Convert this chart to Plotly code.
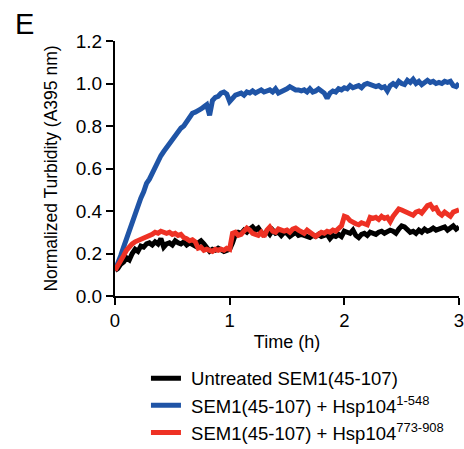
import plotly.graph_objects as go

time_h = [i * 0.025 for i in range(121)]

untreated = [
    0.12, 0.13, 0.15, 0.16, 0.18, 0.17, 0.20, 0.22, 0.21, 0.235,
    0.23, 0.245, 0.25, 0.24, 0.255, 0.245, 0.27, 0.23, 0.245, 0.25,
    0.24, 0.26, 0.25, 0.245, 0.255, 0.24, 0.25, 0.245, 0.235, 0.25,
    0.26, 0.245, 0.23, 0.21, 0.22, 0.215, 0.225, 0.22, 0.21, 0.215,
    0.22, 0.25, 0.29, 0.30, 0.295, 0.31, 0.30, 0.315, 0.325, 0.31,
    0.32, 0.30, 0.29, 0.305, 0.29, 0.31, 0.295, 0.30, 0.285, 0.30,
    0.295, 0.28, 0.29, 0.30, 0.285, 0.29, 0.285, 0.28, 0.275, 0.285,
    0.28, 0.29, 0.28, 0.285, 0.29, 0.27, 0.285, 0.28, 0.29, 0.28,
    0.305, 0.30, 0.295, 0.31, 0.285, 0.275, 0.29, 0.295, 0.285, 0.30,
    0.295, 0.29, 0.30, 0.305, 0.295, 0.30, 0.31, 0.305, 0.295, 0.315,
    0.33, 0.325, 0.31, 0.30, 0.305, 0.295, 0.31, 0.30, 0.315, 0.305,
    0.31, 0.32, 0.31, 0.315, 0.32, 0.325, 0.31, 0.32, 0.33, 0.315,
    0.325,
]

hsp_1_548 = [
    0.12, 0.15, 0.19, 0.23, 0.27, 0.31, 0.35, 0.39, 0.43, 0.46,
    0.49, 0.53, 0.55, 0.58, 0.61, 0.63, 0.66, 0.68, 0.70, 0.72,
    0.74, 0.755, 0.77, 0.79, 0.80, 0.82, 0.835, 0.86, 0.865, 0.87,
    0.88, 0.89, 0.90, 0.85, 0.92, 0.935, 0.94, 0.955, 0.96, 0.95,
    0.915, 0.93, 0.945, 0.95, 0.955, 0.945, 0.96, 0.955, 0.965, 0.955,
    0.96, 0.97, 0.96, 0.965, 0.97, 0.96, 0.975, 0.955, 0.96, 0.965,
    0.975, 0.985, 0.975, 0.97, 0.97, 0.965, 0.97, 0.96, 0.975, 0.96,
    0.965, 0.975, 0.965, 0.955, 0.93, 0.955, 0.965, 0.96, 0.975, 0.97,
    0.98, 0.975, 0.99, 0.98, 0.985, 0.99, 0.98, 0.995, 1.0, 0.995,
    0.99, 0.985, 0.99, 0.98, 0.985, 0.965, 0.99, 1.0, 0.99, 1.01,
    1.0, 0.995, 1.015, 1.005, 1.02, 1.0, 1.01, 0.995, 1.005, 1.015,
    1.005, 1.01, 1.0, 1.005, 1.0, 1.01, 1.005, 1.01, 0.99, 0.985,
    1.0,
]

hsp_773_908 = [
    0.12, 0.14, 0.165, 0.19, 0.215, 0.235, 0.245, 0.255, 0.26, 0.265,
    0.27, 0.275, 0.285, 0.29, 0.30, 0.295, 0.305, 0.30, 0.295, 0.30,
    0.29, 0.295, 0.285, 0.29, 0.275, 0.27, 0.26, 0.265, 0.255, 0.225,
    0.23, 0.215, 0.22, 0.215, 0.21, 0.22, 0.215, 0.22, 0.215, 0.225,
    0.22, 0.295, 0.30, 0.285, 0.29, 0.305, 0.32, 0.31, 0.295, 0.29,
    0.285, 0.30, 0.28, 0.31, 0.325, 0.305, 0.30, 0.315, 0.31, 0.305,
    0.31, 0.30, 0.315, 0.32, 0.31, 0.305, 0.295, 0.31, 0.30, 0.285,
    0.28, 0.29, 0.30, 0.295, 0.305, 0.30, 0.31, 0.305, 0.315, 0.33,
    0.375, 0.37, 0.355, 0.345, 0.34, 0.335, 0.345, 0.34, 0.335, 0.37,
    0.365, 0.37, 0.36, 0.375, 0.365, 0.37, 0.35, 0.375, 0.39, 0.41,
    0.405, 0.40, 0.395, 0.385, 0.38, 0.395, 0.40, 0.39, 0.405, 0.425,
    0.43, 0.41, 0.415, 0.39, 0.38, 0.395, 0.385, 0.375, 0.395, 0.40,
    0.405,
]

series_names = [
    "\u00a0Untreated SEM1(45-107)",
    "\u00a0SEM1(45-107) + Hsp104<sup>1-548</sup>",
    "\u00a0SEM1(45-107) + Hsp104<sup>773-908</sup>",
]
series_values = [untreated, hsp_1_548, hsp_773_908]
series_colors = ["#000000", "#1f54a6", "#ee3124"]

x_ticks = [0, 1, 2, 3]
y_ticks = [0.0, 0.2, 0.4, 0.6, 0.8, 1.0, 1.2]

FONT = "Liberation Sans, Arial, Helvetica, sans-serif"

fig = go.Figure()
for name, vals, col in zip(series_names, series_values, series_colors):
    fig.add_trace(go.Scatter(
        x=time_h, y=vals, mode="lines", name=name,
        line=dict(color=col, width=5),
    ))

fig.update_layout(
    width=464, height=449,
    margin=dict(l=115, r=5, t=41, b=153, autoexpand=False),
    paper_bgcolor="white", plot_bgcolor="white",
    font=dict(family=FONT, color="black", size=18),
    showlegend=True,
    legend=dict(
        x=0.09, y=-0.25, xanchor="left", yanchor="top",
        font=dict(size=18.5, family=FONT), tracegroupgap=0,
        bgcolor="rgba(0,0,0,0)", itemwidth=30,
    ),
    annotations=[dict(
        text="E", xref="paper", yref="paper",
        x=-0.2965, y=1.137, xanchor="left", yanchor="top",
        showarrow=False, font=dict(size=29, family=FONT),
    )],
)
fig.update_xaxes(
    range=[0, 3], tickvals=x_ticks, ticktext=[str(v) for v in x_ticks],
    showline=True, linecolor="black", linewidth=2,
    ticks="outside", ticklen=7, tickwidth=2, tickcolor="black",
    showgrid=False, zeroline=False, automargin=False,
    ticklabeloverflow="allow",
    tickfont=dict(size=18.5),
    title=dict(text="Time (h)", font=dict(size=18), standoff=5),
)
fig.update_yaxes(
    range=[0, 1.2], tickvals=y_ticks, ticktext=[f"{v:.1f}" for v in y_ticks],
    showline=True, linecolor="black", linewidth=2,
    ticks="outside", ticklen=7, tickwidth=2, tickcolor="black",
    showgrid=False, zeroline=False, automargin=False,
    ticklabeloverflow="allow",
    tickfont=dict(size=19),
    title=dict(text="Normalized Turbidity (A395 nm)", font=dict(size=17.5), standoff=14),
)

fig.write_html("out.html")
